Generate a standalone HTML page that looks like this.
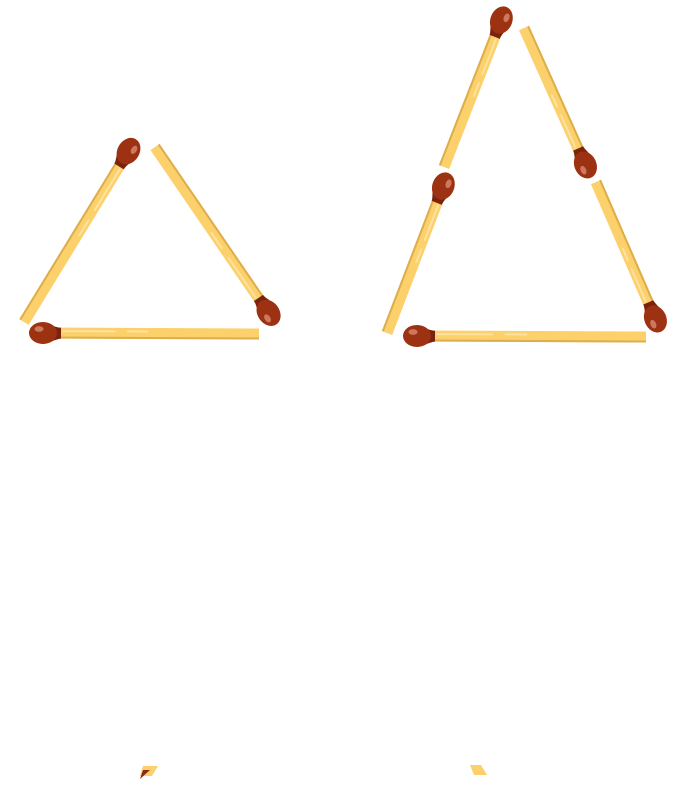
<!DOCTYPE html>
<html><head><meta charset="utf-8"><style>html,body{margin:0;padding:0;background:#fff;width:682px;height:786px;overflow:hidden}</style></head>
<body>
<svg id="scene" width="682" height="786" viewBox="0 0 682 786" xmlns="http://www.w3.org/2000/svg">
<g id="matches"></g>
<g>
<polygon points="143,766 158,766 152,776 140,776" fill="#fcd06a"/>
<polygon points="143,770 150,770 140,779" fill="#8e2a10"/>
</g>
<polygon points="470,765 481,765 487,775 474,775" fill="#fcd06a"/>
</svg>
<script>
// head x, head y, tail x, tail y
const headsX=[128,268,44,501,585,443,655,418];
const headsY=[152,312,333,21,164,187,318,336];
const tailsX=[24,155,259,444,524,387,596,646];
const tailsY=[322,147,334,167,28,333,182,337];
const names=['left-match-left','left-match-right','left-match-bottom','right-match-top-left','right-match-top-right','right-match-lower-left','right-match-lower-right','right-match-bottom'];
const NS='http://www.w3.org/2000/svg';
const g=document.getElementById('matches');
for(let i=0;i<headsX.length;i++){
  const hx=headsX[i],hy=headsY[i],tx=tailsX[i],ty=tailsY[i];
  const L=Math.hypot(tx-hx,ty-hy);
  const a=Math.atan2(ty-hy,tx-hx)*180/Math.PI;
  const m=document.createElementNS(NS,'g');
  
  
  m.setAttribute('transform',`translate(${hx},${hy}) rotate(${a})`);
  m.innerHTML=
   `<rect x="6" y="-5.5" width="${L-6}" height="11" fill="#fcd06a"/>`+
   `<rect x="6" y="3.5" width="${L-6}" height="2" fill="#dcae4c"/>`+
   `<rect x="18" y="-3" width="${L*0.25}" height="2" rx="1" fill="#fde6b0" opacity="0.8"/>`+
   `<rect x="${18+L*0.3}" y="-3" width="${L*0.1}" height="2" rx="1" fill="#fde6b0" opacity="0.8"/>`+
   `<path d="M0,-10 C10,-7 14,-5 17,-5.5 L17,5.5 C12,6 8,9 0,10 Z" fill="#7a220d"/>`+
   `<ellipse cx="-1" cy="0" rx="14" ry="11" fill="#9c3212"/>`+
   `<ellipse cx="-5" cy="-4" rx="4.5" ry="2.8" fill="#d98a70" opacity="0.8"/>`;
  g.appendChild(m);
}
</script>
</body></html>
